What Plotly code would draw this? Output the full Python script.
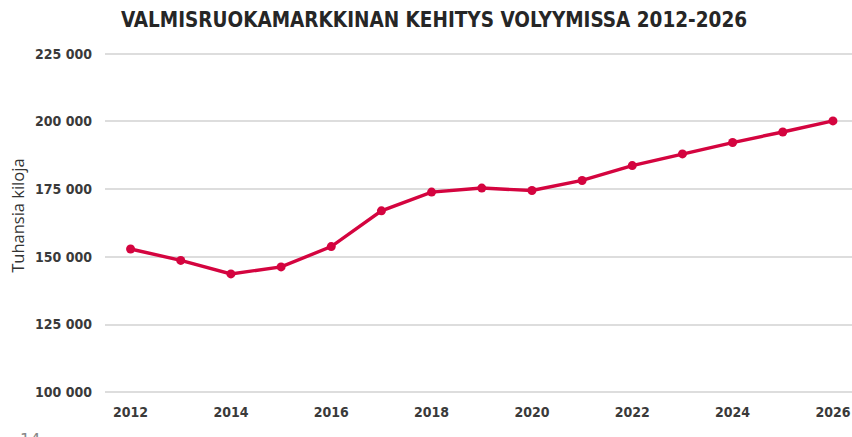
import plotly.graph_objects as go

years = list(range(2012, 2027))
volumes = [152900, 148700, 143700, 146300, 153800, 167000, 173900, 175400,
           174500, 178200, 183700, 188000, 192200, 196100, 200200]
y_ticks = [100000, 125000, 150000, 175000, 200000, 225000]
y_tick_labels = ["100 000", "125 000", "150 000", "175 000", "200 000", "225 000"]
x_ticks = list(range(2012, 2027, 2))

title_text = "VALMISRUOKAMARKKINAN KEHITYS VOLYYMISSA 2012-2026"
y_title = "Tuhansia kiloja"
page_number = "14"

W, H = 852, 437
Y_MIN, Y_MAX = 99000, 226000
K = (392.7 - 53.7) / 125000  # px per unit
PL, PR = 105, 852
PT = 53.7 - (Y_MAX - 225000) * K
PB = 392.7 + (100000 - Y_MIN) * K

def cx(px):  # page x -> container fraction
    return px / W

def cy(py):  # page y -> container fraction
    return 1 - py / H

def px_(px):  # page x -> paper fraction
    return (px - PL) / (PR - PL)

def py_(py):  # page y -> paper fraction
    return (PB - py) / (PB - PT)

tick_font = dict(family="DejaVu Sans Condensed", size=14, color="#3a3a3a",
                 weight="bold")

fig = go.Figure()
fig.add_trace(go.Scatter(
    x=years, y=volumes, mode="lines+markers",
    line=dict(color="#d4043f", width=3.4),
    marker=dict(color="#d4043f", size=9),
    hoverinfo="x+y", showlegend=False,
))

fig.update_layout(
    width=W, height=H,
    margin=dict(l=PL, r=W - PR, t=PT, b=H - PB),
    paper_bgcolor="white", plot_bgcolor="white",
    title=dict(text="<b>" + title_text + "</b>", x=cx(434), xanchor="center",
               xref="container", y=cy(20), yanchor="middle", yref="container",
               font=dict(family="DejaVu Sans Condensed", size=20.5, color="#262626")),
    xaxis=dict(range=[2011.49, 2026.38], tickvals=x_ticks, showgrid=False,
               zeroline=False, showline=False, ticks="",
               tickfont=tick_font, ticklabelstandoff=7),
    yaxis=dict(range=[Y_MIN, Y_MAX], tickvals=y_ticks, ticktext=y_tick_labels,
               showgrid=True, gridcolor="#dddddd", gridwidth=1.5, zeroline=False,
               showline=False, ticks="", ticklabelstandoff=12,
               tickfont=tick_font),
)
fig.add_annotation(text=y_title, textangle=-90, x=px_(18), xref="paper",
                   xanchor="center", y=py_(216), yref="paper", yanchor="middle",
                   showarrow=False,
                   font=dict(family="Open Sans", size=16.5, color="#333333"))
fig.add_annotation(text=page_number, x=px_(30), xref="paper", xanchor="center",
                   y=py_(428), yref="paper", yanchor="top", showarrow=False,
                   font=dict(family="DejaVu Sans", size=16, color="#888888"))

fig.write_html(
    "out.html",
    config={"displayModeBar": False},
    post_script="document.body.style.margin='0';"
                "document.body.style.overflow='hidden';"
                "document.documentElement.style.overflow='hidden';",
)
